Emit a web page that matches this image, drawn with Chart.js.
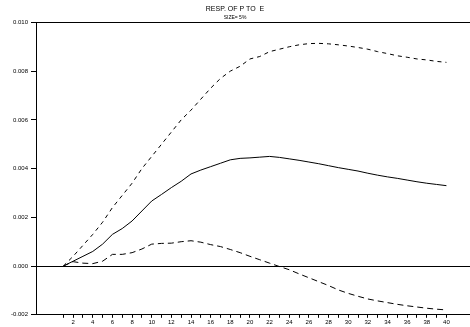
<!DOCTYPE html>
<html>
<head>
<meta charset="utf-8">
<script src="https://cdn.jsdelivr.net/npm/chart.js@4/dist/chart.umd.min.js"></script>
<style>
  body { margin: 0; background: #fff; }
  #wrap { width: 470px; height: 327px; }
</style>
</head>
<body>
<div id="wrap"><canvas id="irf" width="470" height="327"></canvas></div>
<script>
// response horizon (periods)
const periods = [1, 2, 3, 4, 5, 6, 7, 8, 9, 10, 11, 12, 13, 14, 15, 16, 17, 18, 19, 20,
  21, 22, 23, 24, 25, 26, 27, 28, 29, 30, 31, 32, 33, 34, 35, 36, 37, 38, 39, 40];

// point estimate
const response = [0, 0.0002, 0.0004, 0.0006, 0.0009, 0.0013, 0.00154, 0.00185, 0.00226, 0.00267,
  0.00294, 0.00322, 0.00348, 0.00378, 0.00394, 0.00408, 0.00422, 0.00436, 0.00442, 0.00444,
  0.00447, 0.0045, 0.00446, 0.0044, 0.00434, 0.00427, 0.0042, 0.00412, 0.00404, 0.00397,
  0.0039, 0.00381, 0.00373, 0.00366, 0.0036, 0.00353, 0.00346, 0.0034, 0.00335, 0.0033];

// 5% bands
const upperBand = [0, 0.0004, 0.00085, 0.0013, 0.0018, 0.0024, 0.0029, 0.0034, 0.004, 0.0045,
  0.005, 0.0055, 0.006, 0.0064, 0.00685, 0.0073, 0.0077, 0.008, 0.0082, 0.0085,
  0.0086, 0.0088, 0.0089, 0.009, 0.00908, 0.00913, 0.00914, 0.00912, 0.00908, 0.00903,
  0.00897, 0.0089, 0.0088, 0.00872, 0.00863, 0.00857, 0.0085, 0.00846, 0.0084, 0.00836];
const lowerBand = [0, 0.00018, 0.00012, 0.0001, 0.0002, 0.00048, 0.00048, 0.00055, 0.0007, 0.0009,
  0.00093, 0.00094, 0.001, 0.00104, 0.00098, 0.00088, 0.0008, 0.00068, 0.00055, 0.0004,
  0.00026, 0.00012, -0.00002, -0.00015, -0.00032, -0.00048, -0.00064, -0.0008, -0.00098, -0.00112,
  -0.00124, -0.00135, -0.00143, -0.0015, -0.00157, -0.00163, -0.00168, -0.00173, -0.00177, -0.0018];

const yTicks = [-0.002, 0, 0.002, 0.004, 0.006, 0.008, 0.010];

const toPoints = (vals) => periods.map((p, i) => ({ x: p, y: vals[i] }));
const smallFont = { family: "Liberation Sans, Arial, sans-serif", size: 6 };

new Chart(document.getElementById("irf").getContext("2d"), {
  type: "line",
  data: {
    datasets: [
      { data: toPoints(response), borderColor: "#000", borderWidth: 1, pointRadius: 0 },
      { data: toPoints(upperBand), borderColor: "#000", borderWidth: 1, borderDash: [4, 4], pointRadius: 0 },
      { data: toPoints(lowerBand), borderColor: "#000", borderWidth: 1, borderDash: [6, 4], pointRadius: 0 },
    ],
  },
  options: {
    responsive: false,
    animation: false,
    layout: { padding: 0 },
    plugins: {
      legend: { display: false },
      tooltip: { enabled: false },
      title: {
        display: true,
        text: "RESP. OF P TO  E",
        color: "#000",
        font: { family: "Liberation Sans, Arial, sans-serif", size: 7, weight: "normal" },
        padding: { top: 5, bottom: 0 },
      },
      subtitle: {
        display: true,
        text: "SIZE= 5%",
        color: "#000",
        font: { family: "Liberation Sans, Arial, sans-serif", size: 5 },
        padding: { top: 1, bottom: 2 },
      },
    },
    scales: {
      x: {
        type: "linear",
        min: -1.78,
        max: 42.4,
        afterBuildTicks: (scale) => { scale.ticks = periods.map((p) => ({ value: p })); },
        ticks: {
          autoSkip: false,
          maxRotation: 0,
          padding: 1,
          color: "#000",
          font: smallFont,
          callback: (v) => (v % 2 === 0 ? String(v) : ""),
        },
        grid: { drawOnChartArea: false, drawTicks: true, tickLength: 3, tickColor: "#000" },
        border: { display: true, color: "#000", width: 1 },
      },
      y: {
        min: -0.002,
        max: 0.010,
        afterBuildTicks: (scale) => { scale.ticks = yTicks.map((v) => ({ value: v })); },
        afterFit: (scale) => { scale.width = 36; },
        ticks: {
          padding: 3,
          color: "#000",
          font: smallFont,
          callback: (v) => Number(v).toFixed(3),
        },
        grid: {
          drawTicks: true,
          tickLength: 5,
          tickColor: "#000",
          // zero line and top frame line
          color: (ctx) => (ctx.tick && (ctx.tick.value === 0 || ctx.tick.value === 0.010) ? "#000" : "rgba(0,0,0,0)"),
        },
        border: { display: true, color: "#000", width: 1 },
      },
    },
  },
});
</script>
</body>
</html>
